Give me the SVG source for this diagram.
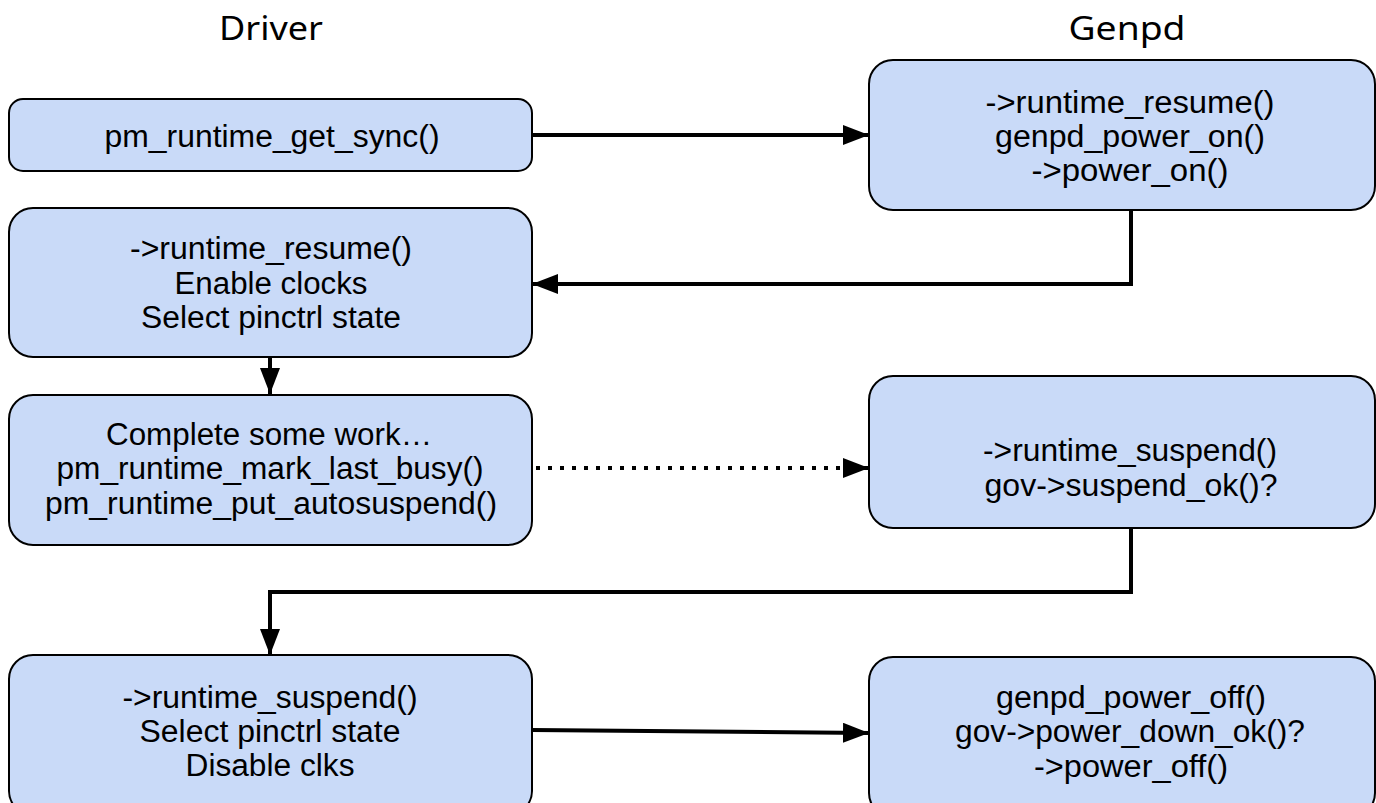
<svg xmlns="http://www.w3.org/2000/svg" width="1376" height="803" viewBox="0 0 1376 803">
  <style>
    .box { fill: #c9daf8; stroke: #000; stroke-width: 2; }
    .t { font-family: "Liberation Sans", Arial, sans-serif; font-size: 31px; fill: #000; text-anchor: middle; dominant-baseline: central; }
    .hdr { font-family: "Noto Sans", "DejaVu Sans", sans-serif; font-size: 32px; fill: #000; text-anchor: middle; dominant-baseline: central; }
    .link { fill: none; stroke: #000; stroke-width: 4; }
    .dots { fill: none; stroke: #000; stroke-width: 4; stroke-dasharray: 4 8; }
  </style>
  <defs>
    <marker id="arrow" markerUnits="userSpaceOnUse" markerWidth="26" markerHeight="20" refX="26" refY="10" orient="auto">
      <path d="M0,0 L26,10 L0,20 Z" fill="#000"/>
    </marker>
  </defs>

  <!-- column headers -->
  <text class="hdr" x="271" y="27" textLength="104" lengthAdjust="spacingAndGlyphs">Driver</text>
  <text class="hdr" x="1127" y="27" textLength="117" lengthAdjust="spacingAndGlyphs">Genpd</text>

  <!-- connectors -->
  <g id="connectors">
    <path class="link" d="M532,135 H869" marker-end="url(#arrow)"/>
    <path class="link" d="M1131,210 V284 H532" marker-end="url(#arrow)"/>
    <path class="link" d="M270,357 V394" marker-end="url(#arrow)"/>
    <path class="dots" d="M536,468 H845"/>
    <path class="link" d="M845,468 H869" stroke-width="0" marker-end="url(#arrow)"/>
    <path class="link" d="M1131,528 V592 H270 V655" marker-end="url(#arrow)"/>
    <path class="link" d="M532,730 L869,733" marker-end="url(#arrow)"/>
  </g>

  <!-- driver side -->
  <g id="get-sync">
    <rect class="box" x="9" y="99" width="523" height="72" rx="14"/>
    <text class="t" x="272" y="136" textLength="335" lengthAdjust="spacingAndGlyphs">pm_runtime_get_sync()</text>
  </g>
  <g id="drv-resume">
    <rect class="box" x="9" y="208" width="523" height="149" rx="24"/>
    <text class="t" x="271" y="248" textLength="282" lengthAdjust="spacingAndGlyphs">-&gt;runtime_resume()</text>
    <text class="t" x="271" y="283" textLength="193" lengthAdjust="spacingAndGlyphs">Enable clocks</text>
    <text class="t" x="271" y="317" textLength="260" lengthAdjust="spacingAndGlyphs">Select pinctrl state</text>
  </g>
  <g id="drv-work">
    <rect class="box" x="9" y="395" width="523" height="150" rx="24"/>
    <text class="t" x="269" y="434" textLength="326" lengthAdjust="spacingAndGlyphs">Complete some work…</text>
    <text class="t" x="270" y="468" textLength="427" lengthAdjust="spacingAndGlyphs">pm_runtime_mark_last_busy()</text>
    <text class="t" x="271" y="503" textLength="452" lengthAdjust="spacingAndGlyphs">pm_runtime_put_autosuspend()</text>
  </g>
  <g id="drv-suspend">
    <rect class="box" x="9" y="655" width="523" height="160" rx="24"/>
    <text class="t" x="270" y="697" textLength="295" lengthAdjust="spacingAndGlyphs">-&gt;runtime_suspend()</text>
    <text class="t" x="270" y="731" textLength="261" lengthAdjust="spacingAndGlyphs">Select pinctrl state</text>
    <text class="t" x="270" y="765" textLength="169" lengthAdjust="spacingAndGlyphs">Disable clks</text>
  </g>

  <!-- genpd side -->
  <g id="pd-resume">
    <rect class="box" x="869" y="60" width="506" height="150" rx="24"/>
    <text class="t" x="1130" y="102" textLength="289" lengthAdjust="spacingAndGlyphs">-&gt;runtime_resume()</text>
    <text class="t" x="1130" y="136" textLength="270" lengthAdjust="spacingAndGlyphs">genpd_power_on()</text>
    <text class="t" x="1130" y="170" textLength="197" lengthAdjust="spacingAndGlyphs">-&gt;power_on()</text>
  </g>
  <g id="pd-suspend">
    <rect class="box" x="869" y="376" width="506" height="152" rx="24"/>
    <text class="t" x="1130" y="450" textLength="294" lengthAdjust="spacingAndGlyphs">-&gt;runtime_suspend()</text>
    <text class="t" x="1131" y="485" textLength="293" lengthAdjust="spacingAndGlyphs">gov-&gt;suspend_ok()?</text>
  </g>
  <g id="pd-off">
    <rect class="box" x="869" y="657" width="506" height="160" rx="24"/>
    <text class="t" x="1131" y="697" textLength="270" lengthAdjust="spacingAndGlyphs">genpd_power_off()</text>
    <text class="t" x="1130" y="731" textLength="350" lengthAdjust="spacingAndGlyphs">gov-&gt;power_down_ok()?</text>
    <text class="t" x="1131" y="766" textLength="194" lengthAdjust="spacingAndGlyphs">-&gt;power_off()</text>
  </g>
</svg>
